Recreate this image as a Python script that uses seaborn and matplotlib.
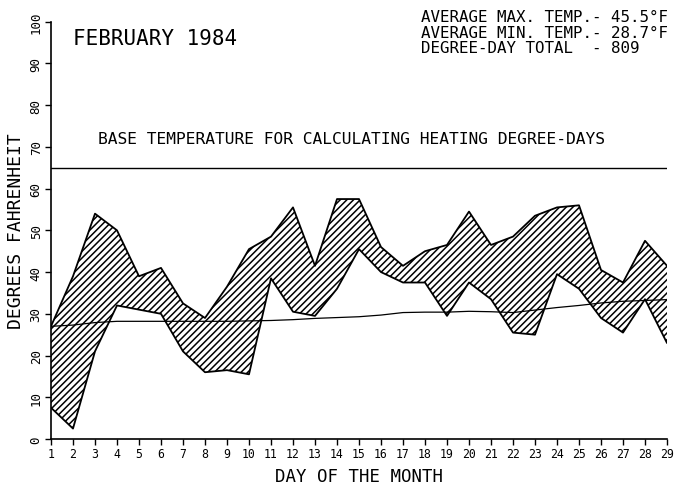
import matplotlib
matplotlib.use("Agg")
import matplotlib.pyplot as plt
import seaborn as sns
import pandas as pd

# daily temperatures, February 1984 (deg F)
days = list(range(1, 30))
max_temp = [27, 39, 54, 50, 39, 41, 32.5, 29, 36.5, 45.5, 48.5, 55.5, 41.5, 57.5, 57.5,
            46, 41.5, 45, 46.5, 54.5, 46.5, 48.5, 53.5, 55.5, 56, 40.5, 37.5, 47.5, 41.5]
min_temp = [7.5, 2.5, 21, 32, 31, 30, 21, 16, 16.5, 15.5, 38.5, 30.5, 29.5, 36, 45.5,
            40, 37.5, 37.5, 29.5, 37.5, 33.5, 25.5, 25, 39.5, 36, 29, 25.5, 33.5, 23]
normal_temp = [27.0, 27.3, 27.9, 28.2, 28.2, 28.2, 28.2, 28.2, 28.2, 28.3, 28.4, 28.6, 28.9, 29.1, 29.3,
               29.7, 30.3, 30.4, 30.4, 30.6, 30.5, 30.3, 30.9, 31.5, 32.0, 32.6, 33.0, 33.2, 33.4]
base_temp = 65
y_ticks = [0, 10, 20, 30, 40, 50, 60, 70, 80, 90, 100]

title = "FEBRUARY 1984"
stats = ["AVERAGE MAX. TEMP.- 45.5°F",
         "AVERAGE MIN. TEMP.- 28.7°F",
         "DEGREE-DAY TOTAL  - 809"]
base_label = "BASE TEMPERATURE FOR CALCULATING HEATING DEGREE-DAYS"

df = pd.DataFrame({"day": days, "max": max_temp, "min": min_temp, "normal": normal_temp})

sns.set_style("ticks")
plt.rcParams["font.family"] = ["DejaVu Sans Mono", "DejaVu Sans"]
plt.rcParams["text.color"] = "black"
plt.rcParams["axes.labelcolor"] = "black"
plt.rcParams["hatch.linewidth"] = 1.1
plt.rcParams["hatch.color"] = "black"

fig = plt.figure(figsize=(6.74, 4.85), dpi=100)
ax = fig.add_axes([51 / 674, 45 / 485, 616 / 674, 417.3 / 485])

ax.fill_between(df["day"], df["min"], df["max"], facecolor="none",
                edgecolor="black", hatch="/////", linewidth=0)
sns.lineplot(data=df, x="day", y="max", color="black", linewidth=1.3, ax=ax)
sns.lineplot(data=df, x="day", y="min", color="black", linewidth=1.3, ax=ax)
sns.lineplot(data=df, x="day", y="normal", color="black", linewidth=0.9, ax=ax)
ax.axhline(base_temp, color="black", linewidth=1.0)

ax.set_xlim(1, 29)
ax.set_ylim(0, 100)
ax.set_xticks(days)
ax.set_xticklabels([str(d) for d in days])
ax.set_yticks(y_ticks)
ax.set_yticklabels([str(v) for v in y_ticks], rotation=90, va="center")
ax.tick_params(axis="y", length=4, width=1, pad=2, labelsize=9, colors="black")
ax.tick_params(axis="x", length=4.5, width=1, pad=1.5, labelsize=8.3, colors="black")
sns.despine(ax=ax)
for side in ["left", "bottom"]:
    ax.spines[side].set_linewidth(1.2)
    ax.spines[side].set_color("black")

ax.set_xlabel("DAY OF THE MONTH", fontsize=12.5, labelpad=5)
ax.set_ylabel("DEGREES FAHRENHEIT", fontsize=13, labelpad=3)

ax.text(0.036, 0.961, title, transform=ax.transAxes, fontsize=15, va="center", ha="left")
for i, line in enumerate(stats):
    ax.text(0.600, (440 - (18 + 15.5 * i)) / 417.3, line, transform=ax.transAxes,
            fontsize=11.4, va="center", ha="left")
ax.text(0.076, 0.721, base_label, transform=ax.transAxes, fontsize=11.7, va="center", ha="left")

fig.savefig("out.png", dpi=100)
